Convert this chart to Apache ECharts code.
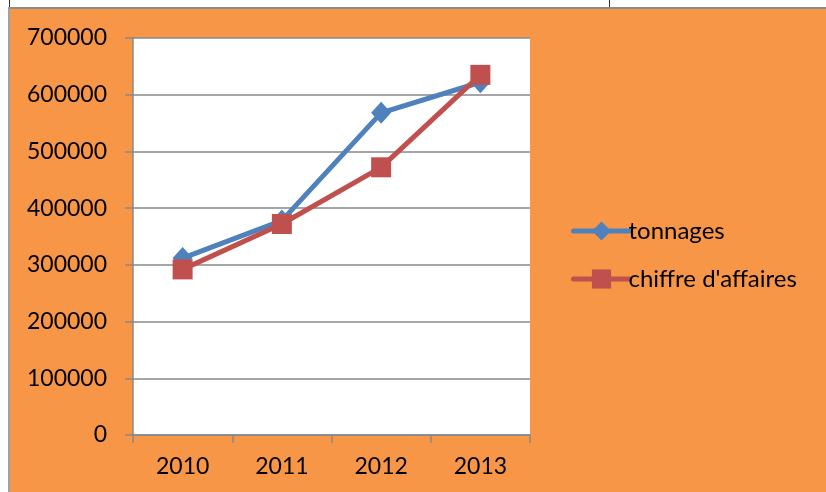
<!DOCTYPE html>
<html>
<head>
<meta charset="utf-8">
<script src="https://cdn.jsdelivr.net/npm/echarts@6/dist/echarts.min.js"></script>
<style>
html,body{margin:0;padding:0;background:#fff;}
#c{width:826px;height:492px;}
</style>
</head>
<body>
<div id="c"></div>
<script>
const categories = ['2010', '2011', '2012', '2013'];
const tonnages = [312000, 378000, 568000, 622000];
const chiffreAffaires = [292000, 372000, 472000, 635000];
const yTicks = [0, 100000, 200000, 300000, 400000, 500000, 600000, 700000];

const chart = echarts.init(document.getElementById('c'));
const font = 'Lato, "Open Sans", sans-serif';
const gray = '#898989';
chart.setOption({
  backgroundColor: '#F79646',
  animation: false,
  graphic: [
    {type: 'rect', shape: {x: 0, y: 0, width: 826, height: 7}, style: {fill: '#ffffff'}, z: 100},
    {type: 'rect', shape: {x: 0, y: 0, width: 8, height: 492}, style: {fill: '#ffffff'}, z: 100},
    {type: 'rect', shape: {x: 8, y: 7, width: 818, height: 2}, style: {fill: '#8c8c8c'}, z: 101},
    {type: 'rect', shape: {x: 8, y: 7, width: 2, height: 485}, style: {fill: '#a0a0a0'}, z: 101},
    {type: 'rect', shape: {x: 9, y: 0, width: 1, height: 7}, style: {fill: '#333333'}, z: 101},
    {type: 'rect', shape: {x: 609, y: 0, width: 1, height: 7}, style: {fill: '#333333'}, z: 101}
  ],
  grid: {
    left: 133, right: 296, top: 38, bottom: 57,
    show: true, backgroundColor: '#ffffff', borderWidth: 0
  },
  legend: {
    orient: 'vertical',
    left: 566, top: 214,
    itemWidth: 56, itemHeight: 24, itemGap: 24,
    lineStyle: {width: 5, cap: 'round'},
    textStyle: {fontFamily: font, fontSize: 24, color: '#000', padding: [0, 0, 0, -6]},
    data: ['tonnages', "chiffre d'affaires"]
  },
  xAxis: {
    type: 'category',
    data: categories,
    boundaryGap: true,
    axisLine: {lineStyle: {color: gray, width: 1.5}},
    axisTick: {show: true, length: 8, lineStyle: {color: gray, width: 1.5}},
    axisLabel: {fontFamily: font, fontSize: 23, color: '#000', margin: 20}
  },
  yAxis: {
    type: 'value',
    min: 0, max: 700000, interval: 100000,
    axisLine: {show: true, lineStyle: {color: gray, width: 1.5}},
    axisTick: {show: true, length: 8, lineStyle: {color: gray, width: 1.5}},
    splitLine: {lineStyle: {color: gray, width: 1.5}},
    axisLabel: {
      fontFamily: font, fontSize: 23, color: '#000', margin: 26,
      formatter: function (v) { return yTicks.indexOf(v) >= 0 ? String(v) : ''; }
    }
  },
  series: [
    {
      name: 'tonnages', type: 'line', data: tonnages,
      symbol: 'diamond', symbolSize: [20, 22],
      lineStyle: {color: '#4F81BD', width: 5},
      itemStyle: {color: '#4F81BD'}
    },
    {
      name: "chiffre d'affaires", type: 'line', data: chiffreAffaires,
      symbol: 'rect', symbolSize: 20,
      lineStyle: {color: '#C0504D', width: 5},
      itemStyle: {color: '#C0504D'}
    }
  ]
});
</script>
</body>
</html>
